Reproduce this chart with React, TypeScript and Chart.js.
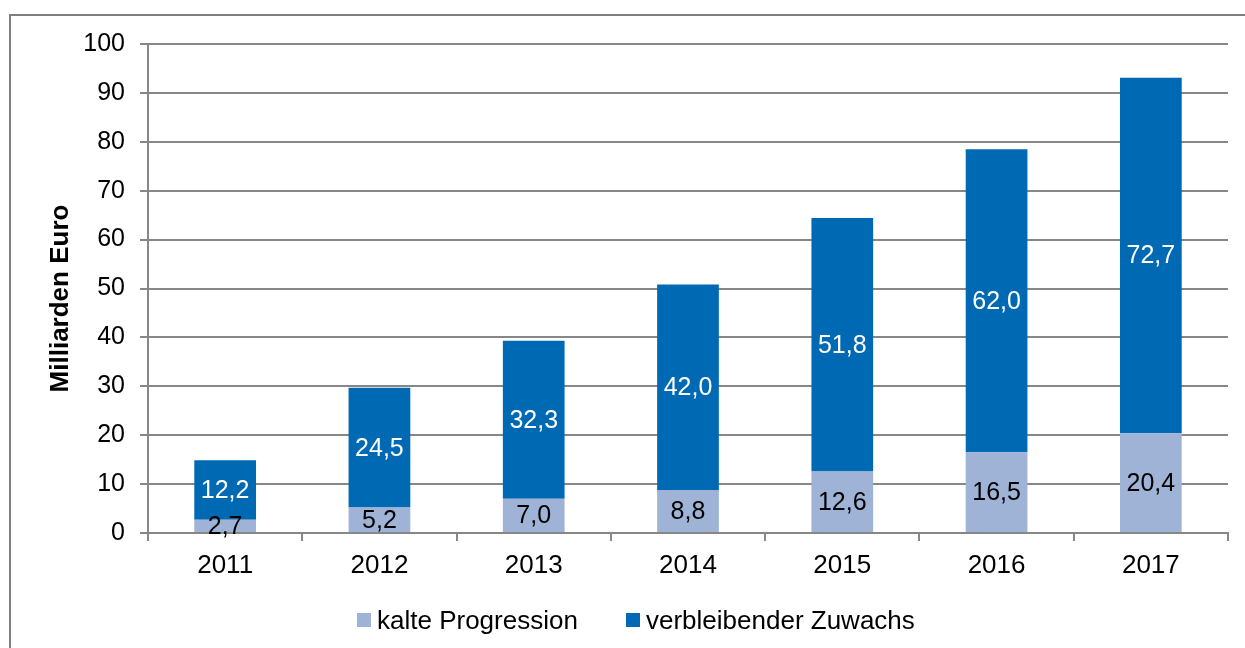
import React, { useEffect, useRef } from 'react';
import { Chart, registerables } from 'chart.js';

Chart.register(...registerables);

const years = ['2011', '2012', '2013', '2014', '2015', '2016', '2017'];
const kalteProgression = [2.7, 5.2, 7.0, 8.8, 12.6, 16.5, 20.4];
const verbleibenderZuwachs = [12.2, 24.5, 32.3, 42.0, 51.8, 62.0, 72.7];
const seriesLabels = ['kalte Progression', 'verbleibender Zuwachs'];
const seriesColors = ['#9FB3D6', '#0069B3'];
const valueLabelColors = ['#000000', '#ffffff'];
const yAxisTitle = 'Milliarden Euro';
const yMin = 0;
const yMax = 100;
const yStep = 10;

const FONT = '"Liberation Sans", Arial, sans-serif';
const GRID = '#878787';

const fmt = (v: number) => v.toFixed(1).replace('.', ',');

const valueLabels = {
  id: 'valueLabels',
  afterDatasetsDraw(chart: any) {
    const ctx = chart.ctx;
    chart.data.datasets.forEach((ds: any, i: number) => {
      const meta = chart.getDatasetMeta(i);
      meta.data.forEach((bar: any, j: number) => {
        const v = ds.data[j] as number;
        const { x, y, base } = bar.getProps(['x', 'y', 'base'], true);
        ctx.save();
        ctx.font = `25px ${FONT}`;
        ctx.fillStyle = valueLabelColors[i];
        ctx.textAlign = 'center';
        ctx.textBaseline = 'middle';
        ctx.fillText(fmt(v), x, (y + base) / 2 + 1);
        ctx.restore();
      });
    });
  },
};

const yTitlePlugin = {
  id: 'yTitlePlugin',
  afterDraw(chart: any) {
    const ctx = chart.ctx;
    const area = chart.chartArea;
    ctx.save();
    ctx.font = `bold 26px ${FONT}`;
    ctx.fillStyle = '#000';
    ctx.textAlign = 'center';
    ctx.textBaseline = 'middle';
    ctx.translate(61, (area.top + area.bottom) / 2 + 10);
    ctx.rotate(-Math.PI / 2);
    ctx.fillText(yAxisTitle, 0, 0);
    ctx.restore();
  },
};

export default function App() {
  const canvasRef = useRef<HTMLCanvasElement | null>(null);

  useEffect(() => {
    document.body.style.margin = '0';
    const canvas = canvasRef.current;
    if (!canvas) return;
    const chart = new Chart(canvas, {
      type: 'bar',
      data: {
        labels: years,
        datasets: [
          {
            label: seriesLabels[0],
            data: kalteProgression,
            backgroundColor: seriesColors[0],
            borderWidth: 0,
            categoryPercentage: 1,
            barPercentage: 0.4,
          },
          {
            label: seriesLabels[1],
            data: verbleibenderZuwachs,
            backgroundColor: seriesColors[1],
            borderWidth: 0,
            categoryPercentage: 1,
            barPercentage: 0.4,
          },
        ],
      },
      options: {
        responsive: false,
        animation: false,
        devicePixelRatio: 1,
        layout: { padding: { left: 0, right: 17, top: 44, bottom: 0 } },
        plugins: {
          legend: { display: false },
          tooltip: { enabled: false },
        },
        scales: {
          x: {
            stacked: true,
            offset: true,
            afterFit: (scale: any) => {
              scale.height = 115;
            },
            grid: {
              display: true,
              drawOnChartArea: false,
              drawTicks: true,
              tickLength: 8,
              offset: true,
              color: GRID,
              lineWidth: 2,
            },
            border: { display: true, color: GRID, width: 2 },
            ticks: {
              color: '#000',
              font: { family: FONT, size: 26 },
              padding: 9,
              maxRotation: 0,
            },
          },
          y: {
            stacked: true,
            min: yMin,
            max: yMax,
            afterFit: (scale: any) => {
              scale.width = 148;
            },
            grid: {
              color: GRID,
              lineWidth: 2,
              drawTicks: true,
              tickLength: 8,
            },
            border: { display: true, color: GRID, width: 2 },
            ticks: {
              stepSize: yStep,
              color: '#000',
              font: { family: FONT, size: 25 },
              padding: 15,
            },
          },
        },
      },
      plugins: [valueLabels, yTitlePlugin],
    } as any);
    return () => chart.destroy();
  }, []);

  const legendItem = (i: number, left: number) => (
    <div
      key={i}
      style={{
        position: 'absolute',
        left,
        top: 605,
        height: 30,
        display: 'flex',
        alignItems: 'center',
        fontFamily: FONT,
        fontSize: 26,
        color: '#000',
        whiteSpace: 'nowrap',
      }}
    >
      <span
        style={{
          display: 'inline-block',
          width: 14,
          height: 14,
          background: seriesColors[i],
          marginRight: 6,
        }}
      />
      <span>{seriesLabels[i]}</span>
    </div>
  );

  return (
    <div style={{ position: 'relative', width: 1245, height: 648, overflow: 'hidden', background: '#fff' }}>
      <div
        style={{
          position: 'absolute',
          left: 9,
          top: 14,
          width: 1300,
          height: 700,
          borderLeft: '2px solid #7f7f7f',
          borderTop: '2px solid #7f7f7f',
        }}
      />
      <canvas ref={canvasRef} width={1245} height={648} style={{ position: 'absolute', left: 0, top: 0 }} />
      {legendItem(0, 357)}
      {legendItem(1, 626)}
    </div>
  );
}
